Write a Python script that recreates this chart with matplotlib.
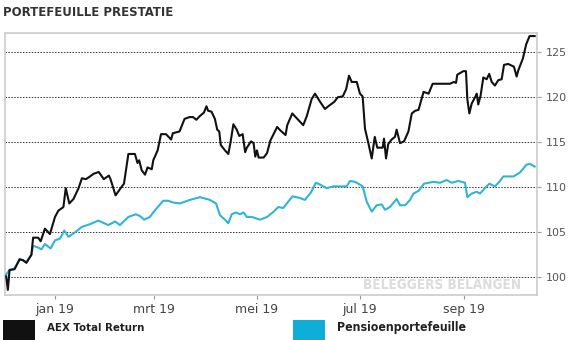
import pandas as pd
import numpy as np
import matplotlib
matplotlib.use("Agg")
import matplotlib.pyplot as plt
from matplotlib import font_manager
from matplotlib.patches import Rectangle

# Data: day offset from 2019-01-01 and index value
aex_days = [-29, -28, -27, -24, -21, -19, -17, -14, -13, -10, -8.5, -6, -3, 0, 2, 5, 6.4,
            8.5, 11, 14, 16, 18.4, 20, 23, 26, 29, 32, 33, 36, 39, 41, 43.6, 47.5, 49, 50,
            51.5, 53.5, 55, 57.5, 58.4, 61, 63, 66, 69, 70, 74, 77, 80, 82, 84, 86, 88.5, 90,
            91, 93, 95, 96.4, 97.6, 98.5, 101, 103, 104.4, 106, 108, 109.5, 111.5, 113, 114,
            116.5, 118, 119, 120, 121, 124, 126, 128, 132, 134, 137, 138, 141, 143, 145,
            147.5, 149.6, 152.5, 154.5, 157.5, 160.4, 162.4, 166, 168, 171, 173, 174.7,
            176.3, 179.3, 181.2, 182.8, 184.2, 186.2, 188.2, 190, 191.5, 194.7, 195.5, 196.7,
            198, 200, 202, 203, 205, 207.4, 210, 212, 214, 216, 219, 222, 224.4, 227.7,
            234.7, 237, 238.3, 239, 242.6, 244.2, 245, 246.2, 247.6, 249.6, 250.6, 251.5,
            252.9, 254.5, 256.5, 258, 259.5, 261.4, 263.4, 265.4, 266.8, 269.3, 272.7, 274.3,
            275.3, 278, 280, 282, 285]
aex_vals = [100.1, 98.6, 100.8, 100.9, 102.0, 101.9, 101.6, 102.5, 104.4, 104.4, 104.0, 105.4,
            104.8, 106.7, 107.4, 107.8, 109.9, 108.2, 108.7, 109.9, 111.0, 110.9, 111.1, 111.5,
            111.7, 110.9, 111.3, 110.9, 109.1, 109.9, 110.4, 113.7, 113.7, 112.7, 113.0, 111.9,
            111.4, 112.2, 112.0, 113.0, 114.1, 115.9, 115.9, 115.3, 116.0, 116.2, 117.6, 117.8,
            117.8, 117.5, 117.9, 118.3, 119.0, 118.5, 118.4, 117.6, 116.4, 116.2, 114.7, 114.1,
            113.7, 115.1, 117.0, 116.4, 115.7, 115.9, 113.9, 114.4, 115.1, 114.9, 113.4, 114.1,
            113.3, 113.3, 113.8, 115.2, 116.7, 116.3, 115.8, 116.9, 118.2, 117.8, 117.4, 116.9,
            117.9, 119.8, 120.4, 119.5, 118.7, 119.0, 119.5, 120.0, 120.1, 120.9, 122.4, 121.7,
            121.7, 120.4, 120.1, 116.5, 114.9, 113.2, 115.6, 114.4, 114.4, 115.4, 113.2, 114.8,
            115.3, 115.6, 116.4, 114.9, 115.1, 116.2, 118.2, 118.5, 118.6, 120.6, 120.4, 121.5,
            121.5, 121.5, 121.7, 121.6, 122.5, 122.9, 122.9, 119.8, 118.2, 119.3, 120.0, 120.4,
            119.2, 120.2, 122.2, 122.0, 122.6, 121.7, 121.3, 121.9, 122.0, 123.6, 123.7, 123.4,
            122.3, 123.0, 124.3, 125.9, 126.8, 126.8]

pensioen_days = [-29, -27, -24, -21, -17, -14, -13, -10, -8, -6, -2.6, 0, 3, 5.5, 8, 12, 16,
                 20.8, 25.7, 31.7, 35.7, 38.6, 43.6, 48, 50.5, 53, 56.4, 58.8, 62, 64.3, 67.3,
                 70.3, 74.3, 80.2, 86.2, 92, 95.7, 98, 101, 103, 105, 107.5, 110, 112, 114, 117,
                 121.8, 126, 129.4, 132.7, 135.7, 137.7, 141.2, 145.6, 148.5, 152, 155, 157.5,
                 161.4, 165.4, 169.3, 173.3, 175.3, 178.3, 180.2, 182.8, 185.2, 188.2, 191.1,
                 194.1, 196.1, 199, 203, 205, 208, 211, 213, 216, 219.3, 224.8, 228.8, 232.7,
                 235.7, 239.6, 243.6, 245, 247.6, 250.6, 252.5, 255.5, 258.1, 261.4, 264, 266.4,
                 269.3, 272.3, 276, 278, 280, 282.2, 285]
pensioen_vals = [100.3, 100.8, 101.0, 102.0, 101.7, 102.5, 103.5, 103.3, 103.1, 103.7, 103.2,
                 104.1, 104.3, 105.2, 104.5, 105.0, 105.6, 105.9, 106.3, 105.8, 106.2, 105.8,
                 106.7, 107.0, 106.8, 106.4, 106.7, 107.3, 108.0, 108.5, 108.5, 108.3, 108.2,
                 108.6, 108.9, 108.6, 108.2, 106.9, 106.4, 106.0, 107.0, 107.2, 107.0, 107.2,
                 106.7, 106.7, 106.4, 106.7, 107.2, 107.8, 107.7, 108.2, 109.0, 108.8, 108.6,
                 109.4, 110.5, 110.3, 109.9, 110.1, 110.1, 110.1, 110.7, 110.6, 110.4, 110.1,
                 108.4, 107.3, 108.0, 108.1, 107.5, 107.8, 108.7, 108.0, 108.0, 108.6, 109.3,
                 109.6, 110.4, 110.6, 110.5, 110.8, 110.5, 110.7, 110.5, 108.9, 109.3, 109.5,
                 109.3, 109.9, 110.4, 110.1, 110.6, 111.2, 111.2, 111.2, 111.6, 112.0, 112.5,
                 112.6, 112.3]

tick_dates = ["2019-01-01", "2019-03-01", "2019-05-01", "2019-07-01", "2019-09-01"]
tick_labels = ["jan 19", "mrt 19", "mei 19", "jul 19", "sep 19"]
y_ticks = [100, 105, 110, 115, 120, 125]

series_names = ["AEX Total Return", "Pensioenportefeuille"]
series_colors = ["#111111", "#2fb5d6"]
legend_colors = ["#111111", "#0eaed6"]

base = pd.Timestamp("2019-01-01")
aex_x = base + pd.to_timedelta(aex_days, unit="D")
pens_x = base + pd.to_timedelta(pensioen_days, unit="D")


def weight_num(w):
    if isinstance(w, str):
        return font_manager.weight_dict.get(w, 400)
    return w


# the original uses a bold condensed face; take one if there is one, else a plain bold sans
cands = [f for f in font_manager.fontManager.ttflist
         if ("Narrow" in f.name or "Condensed" in f.name or f.stretch in ("condensed", "semi-condensed"))
         and "Mono" not in f.name]
cands.sort(key=lambda f: abs(weight_num(f.weight) - 700))
if cands and weight_num(cands[0].weight) >= 600:
    narrow_prop = font_manager.FontProperties(fname=cands[0].fname)
else:
    narrow_prop = font_manager.FontProperties(family=["Roboto", "Liberation Sans"], weight="bold")

fig = plt.figure(figsize=(5.68, 3.40), dpi=100)
ax = fig.add_axes([5 / 568, 1 - 295 / 340, 532 / 568, 262 / 340])

ax.plot(pens_x, pensioen_vals, color=series_colors[1], lw=1.5, zorder=3)
ax.plot(aex_x, aex_vals, color=series_colors[0], lw=1.5, zorder=4)

ax.set_xlim(base + pd.Timedelta(days=-29.7), base + pd.Timedelta(days=286.4))
ax.set_ylim(98.03, 127.14)

ax.set_xticks(pd.to_datetime(tick_dates))
ax.set_xticklabels(tick_labels)
ax.yaxis.tick_right()
ax.set_yticks(y_ticks)
ax.set_yticklabels([str(v) for v in y_ticks])
ax.tick_params(axis="y", length=3, color="#999999", labelcolor="#555555", labelsize=8, pad=3)
ax.tick_params(axis="x", length=3, color="#999999", labelcolor="#444444", labelsize=9, pad=3,
               direction="out")
ax.grid(axis="y", linestyle=(0, (1.5, 1.5)), color="#333333", lw=0.7)

for s in ax.spines.values():
    s.set_color("#cccccc")
    s.set_linewidth(1.2)

wm = ax.text(0.97, 0.012, "BELEGGERS BELANGEN", transform=ax.transAxes, ha="right",
             va="bottom", color="#dcdcdc", fontproperties=narrow_prop, zorder=1)
title = fig.text(3 / 568, 1 - 12 / 340, "PORTEFEUILLE PRESTATIE", ha="left", va="center",
                 color="#333333", fontproperties=narrow_prop)

# legend
leg_texts = []
for x0, txt_x, name, col in zip([3, 293], [47, 337], series_names, legend_colors):
    fig.patches.append(Rectangle((x0 / 568, 0), 32 / 568, 20 / 340, transform=fig.transFigure,
                                 facecolor=col, edgecolor="none"))
    leg_texts.append(fig.text(txt_x / 568, 1 - 328 / 340, name, ha="left", va="center",
                              color="#222222", fontproperties=narrow_prop))

# size the texts to the widths they have in the original (pixels)
renderer = fig.canvas.get_renderer()
for t, target in [(title, 169), (wm, 157), (leg_texts[0], 97), (leg_texts[1], 129)]:
    t.set_fontsize(10)
    w = t.get_window_extent(renderer).width
    t.set_fontsize(min(10 * target / w, 15))

fig.savefig("out.png", dpi=100)
